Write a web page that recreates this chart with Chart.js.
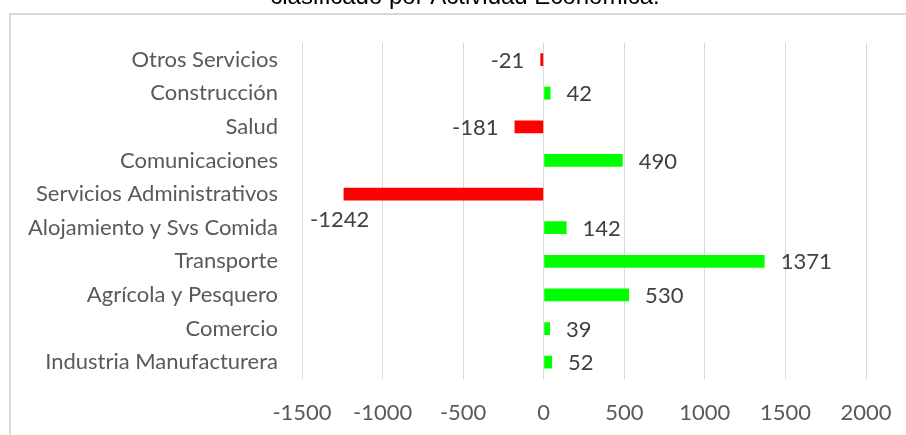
<!DOCTYPE html>
<html>
<head>
<meta charset="utf-8">
<script src="https://cdn.jsdelivr.net/npm/chart.js@4/dist/chart.umd.min.js"></script>
<style>
  html, body { margin: 0; padding: 0; background: #ffffff; overflow: hidden; }
  body { width: 906px; height: 435px; position: relative; }
  #frame { position: absolute; left: 9px; top: 13px; width: 920px; height: 460px;
           border: 2px solid #d9d9d9; box-sizing: border-box; }
  #wrap { position: absolute; left: 0; top: -18px; width: 906px; height: 453px; }
</style>
</head>
<body>
<div id="frame"></div>
<div id="wrap"><canvas id="c" width="906" height="453"></canvas></div>
<script>
// Categories listed top to bottom as they appear in the chart
const categories = [
  'Otros Servicios',
  'Construcción',
  'Salud',
  'Comunicaciones',
  'Servicios Administrativos',
  'Alojamiento y Svs Comida',
  'Transporte',
  'Agrícola y Pesquero',
  'Comercio',
  'Industria Manufacturera'
];
const values = [-21, 42, -181, 490, -1242, 142, 1371, 530, 39, 52];
const xTicks = [-1500, -1000, -500, 0, 500, 1000, 1500, 2000];
const titleText = 'clasificado por Actividad Económica.';

const POS = '#00ff00', NEG = '#ff0000';
const FONT = 'Lato, "Open Sans", sans-serif';

// let the category labels use the full left margin (no clipping at the padding)
const widenLabels = {
  id: 'widenLabels',
  afterLayout(chart) { chart.scales.y.left = 0; }
};

const labelPlugin = {
  id: 'barLabels',
  afterDatasetsDraw(chart) {
    const ctx = chart.ctx;
    const meta = chart.getDatasetMeta(0);
    const area = chart.chartArea;
    ctx.save();
    ctx.font = '22px ' + FONT;
    ctx.fillStyle = '#404040';
    ctx.textBaseline = 'middle';
    meta.data.forEach((el, i) => {
      const v = values[i];
      const txt = String(v);
      const w = ctx.measureText(txt).width;
      if (v >= 0) {
        ctx.textAlign = 'left';
        ctx.fillText(txt, el.x + 16, el.y + 1);
      } else {
        const right = el.x - 16;
        if (right - w < area.left + 2) {
          ctx.textAlign = 'center';
          ctx.fillText(txt, el.x - 4, el.y + 26);
        } else {
          ctx.textAlign = 'right';
          ctx.fillText(txt, right, el.y + 1);
        }
      }
    });
    ctx.restore();
  }
};

new Chart(document.getElementById('c'), {
  type: 'bar',
  data: {
    labels: categories,
    datasets: [{
      data: values,
      backgroundColor: values.map(v => v < 0 ? NEG : POS),
      borderWidth: 0,
      categoryPercentage: 1.0,
      barPercentage: 0.38
    }]
  },
  options: {
    indexAxis: 'y',
    responsive: false,
    animation: false,
    devicePixelRatio: 1,
    layout: { padding: { left: 64, right: 40, top: 0, bottom: 0 } },
    plugins: {
      legend: { display: false },
      tooltip: { enabled: false },
      title: {
        display: true,
        text: titleText,
        color: '#000000',
        font: { family: '"Liberation Sans", Arial, sans-serif', size: 24, weight: 'normal', lineHeight: 1.2 },
        padding: { top: 1, bottom: 31 }
      }
    },
    scales: {
      x: {
        type: 'linear',
        min: -1500,
        max: 2000,
        afterBuildTicks(scale) { scale.ticks = xTicks.map(v => ({ value: v })); },
        afterFit(scale) { scale.height = 56; scale.paddingLeft = 0; scale.paddingRight = 0; },
        border: { display: false },
        grid: { display: true, color: '#d9d9d9', lineWidth: 1, drawTicks: false },
        ticks: {
          color: '#595959',
          font: { family: FONT, size: 22 },
          padding: 21,
          maxRotation: 0,
          autoSkip: false,
          callback: (v) => String(v)
        }
      },
      y: {
        afterFit(scale) { scale.width = 238; },
        border: { display: false },
        grid: { display: false, drawTicks: false },
        ticks: {
          color: '#595959',
          font: { family: FONT, size: 22 },
          padding: 24,
          autoSkip: false
        }
      }
    }
  },
  plugins: [labelPlugin, widenLabels]
});
</script>
</body>
</html>
